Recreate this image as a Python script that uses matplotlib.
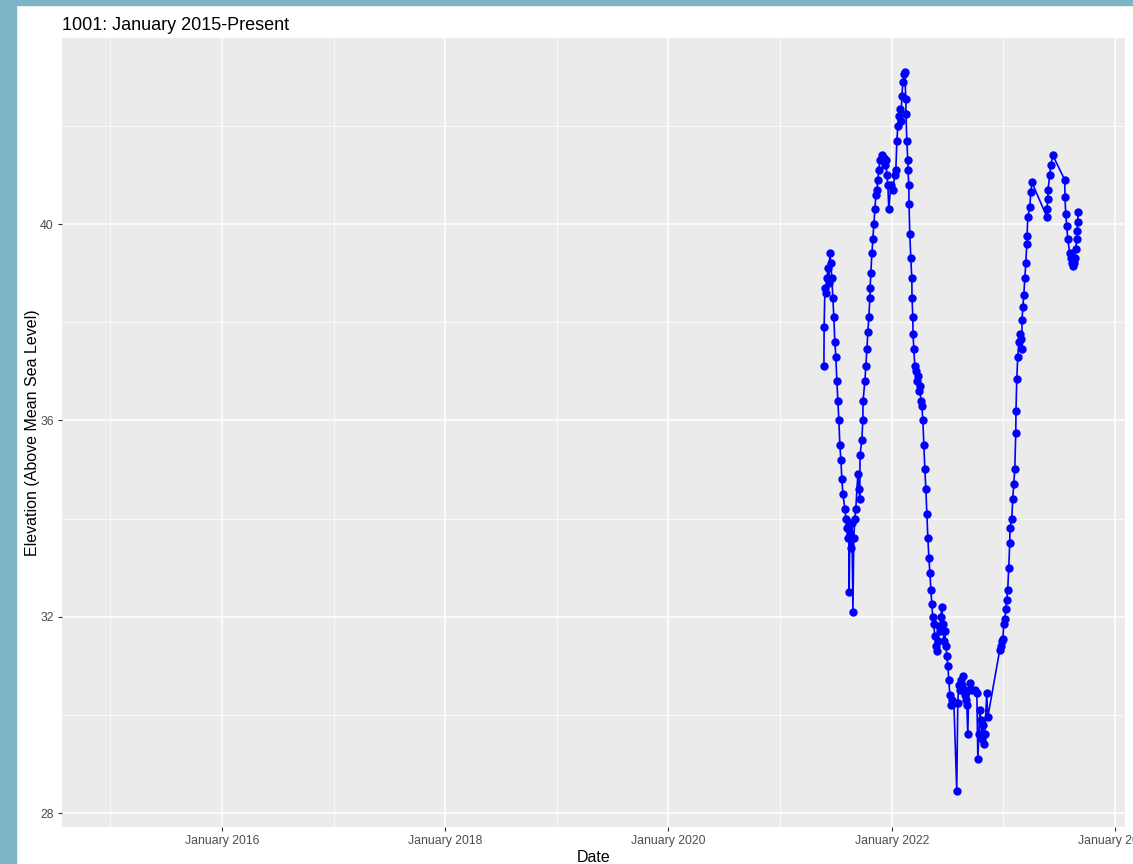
import matplotlib
matplotlib.use('Agg')
import matplotlib.pyplot as plt
import matplotlib.dates as mdates
import pandas as pd
from matplotlib.patches import Rectangle
from matplotlib.ticker import FixedLocator

plt.rcParams['font.family'] = ['Liberation Sans', 'DejaVu Sans']

years = [
    2021.391, 2021.393, 2021.400, 2021.409, 2021.418, 2021.427, 2021.435, 2021.444, 2021.453, 2021.462,
    2021.471, 2021.480, 2021.489, 2021.498, 2021.507, 2021.516, 2021.525, 2021.534, 2021.543, 2021.552,
    2021.561, 2021.579, 2021.588, 2021.597, 2021.606, 2021.615, 2021.617, 2021.624, 2021.633, 2021.642,
    2021.651, 2021.659, 2021.668, 2021.677, 2021.695, 2021.704, 2021.713, 2021.715, 2021.731, 2021.740,
    2021.742, 2021.758, 2021.767, 2021.776, 2021.785, 2021.794, 2021.803, 2021.805, 2021.812, 2021.821,
    2021.830, 2021.839, 2021.848, 2021.857, 2021.866, 2021.875, 2021.884, 2021.892, 2021.910, 2021.928,
    2021.937, 2021.946, 2021.955, 2021.964, 2021.973, 2021.991, 2022.009, 2022.027, 2022.036, 2022.045,
    2022.054, 2022.063, 2022.072, 2022.081, 2022.090, 2022.099, 2022.108, 2022.116, 2022.125, 2022.127,
    2022.134, 2022.143, 2022.145, 2022.152, 2022.154, 2022.161, 2022.170, 2022.179, 2022.181, 2022.188,
    2022.190, 2022.197, 2022.206, 2022.215, 2022.224, 2022.233, 2022.242, 2022.251, 2022.260, 2022.269,
    2022.278, 2022.287, 2022.296, 2022.305, 2022.314, 2022.323, 2022.332, 2022.341, 2022.350, 2022.358,
    2022.367, 2022.376, 2022.385, 2022.394, 2022.403, 2022.412, 2022.421, 2022.430, 2022.439, 2022.448,
    2022.457, 2022.466, 2022.475, 2022.484, 2022.493, 2022.502, 2022.511, 2022.520, 2022.529, 2022.538,
    2022.556, 2022.582, 2022.591, 2022.600, 2022.609, 2022.618, 2022.627, 2022.636, 2022.645, 2022.654,
    2022.663, 2022.672, 2022.681, 2022.690, 2022.699, 2022.717, 2022.744, 2022.762, 2022.771, 2022.780,
    2022.789, 2022.797, 2022.806, 2022.815, 2022.824, 2022.833, 2022.851, 2022.860, 2022.968, 2022.977,
    2022.986, 2022.995, 2023.004, 2023.013, 2023.022, 2023.031, 2023.039, 2023.048, 2023.057, 2023.059,
    2023.075, 2023.084, 2023.093, 2023.102, 2023.111, 2023.113, 2023.120, 2023.129, 2023.138, 2023.147,
    2023.156, 2023.165, 2023.167, 2023.174, 2023.183, 2023.192, 2023.201, 2023.210, 2023.212, 2023.219,
    2023.237, 2023.246, 2023.255, 2023.389, 2023.391, 2023.398, 2023.400, 2023.416, 2023.425, 2023.443,
    2023.550, 2023.552, 2023.559, 2023.568, 2023.577, 2023.595, 2023.604, 2023.613, 2023.622, 2023.631,
    2023.640, 2023.649, 2023.658, 2023.660, 2023.667, 2023.669,
]
elevation = [
    37.1, 37.9, 38.7, 38.6, 38.9, 39.1, 38.8, 39.4, 39.2, 38.9,
    38.5, 38.1, 37.6, 37.3, 36.8, 36.4, 36.0, 35.5, 35.2, 34.8,
    34.5, 34.2, 34.0, 33.8, 33.6, 33.9, 32.5, 33.7, 33.4, 33.9,
    32.1, 33.6, 34.0, 34.2, 34.9, 34.6, 34.4, 35.3, 35.6, 36.0,
    36.4, 36.8, 37.1, 37.45, 37.8, 38.1, 38.5, 38.7, 39.0, 39.4,
    39.7, 40.0, 40.3, 40.6, 40.7, 40.9, 41.1, 41.3, 41.4, 41.35,
    41.2, 41.3, 41.0, 40.8, 40.3, 40.8, 40.7, 41.0, 41.1, 41.7,
    42.0, 42.2, 42.35, 42.1, 42.6, 42.9, 43.06, 43.1, 42.55, 42.25,
    41.7, 41.3, 41.1, 40.8, 40.4, 39.8, 39.3, 38.9, 38.5, 38.1,
    37.75, 37.45, 37.1, 37.0, 36.8, 36.9, 36.6, 36.7, 36.4, 36.3,
    36.0, 35.5, 35.0, 34.6, 34.1, 33.6, 33.2, 32.9, 32.55, 32.25,
    32.0, 31.85, 31.6, 31.4, 31.3, 31.5, 31.8, 31.7, 32.0, 32.2,
    31.85, 31.5, 31.7, 31.4, 31.2, 31.0, 30.7, 30.4, 30.2, 30.3,
    30.25, 28.45, 30.25, 30.6, 30.5, 30.7, 30.6, 30.8, 30.5, 30.4,
    30.3, 30.2, 29.6, 30.5, 30.65, 30.5, 30.5, 30.45, 29.1, 29.6,
    30.1, 29.9, 29.5, 29.8, 29.4, 29.6, 30.45, 29.95, 31.33, 31.4,
    31.5, 31.55, 31.85, 31.95, 32.15, 32.35, 32.55, 33.0, 33.5, 33.8,
    34.0, 34.4, 34.7, 35.0, 35.75, 36.2, 36.85, 37.3, 37.6, 37.75,
    37.65, 37.45, 38.05, 38.3, 38.55, 38.9, 39.2, 39.6, 39.75, 40.15,
    40.35, 40.65, 40.85, 40.15, 40.3, 40.5, 40.7, 41.0, 41.2, 41.4,
    40.9, 40.55, 40.2, 39.95, 39.7, 39.4, 39.3, 39.2, 39.15, 39.2,
    39.3, 39.5, 39.7, 39.85, 40.05, 40.25,
]

major_years = [2016, 2018, 2020, 2022, 2024]
minor_years = [2015, 2017, 2019, 2021, 2023]
y_ticks = [28, 32, 36, 40]
y_minor = [30, 34, 38, 42]


def to_date(y):
    yr = int(y)
    start = pd.Timestamp(year=yr, month=1, day=1)
    days = (pd.Timestamp(year=yr + 1, month=1, day=1) - start).days
    return start + pd.Timedelta(days=(y - yr) * days)


dates = [to_date(y) for y in years]

fig = plt.figure(figsize=(11.33, 8.64), dpi=100)
fig.patch.set_facecolor('white')
# slide border
fig.patches.append(Rectangle((0, 0), 16 / 1133, 1, transform=fig.transFigure, color='#7db4c6', zorder=0))
fig.patches.append(Rectangle((0, 1 - 5 / 864), 1, 5 / 864, transform=fig.transFigure, color='#7db4c6', zorder=0))

ax = fig.add_axes([62 / 1133, 1 - 827 / 864, (1125 - 62) / 1133, (827 - 38) / 864])
ax.set_facecolor('#ebebeb')
for s in ax.spines.values():
    s.set_visible(False)

ax.plot(dates, elevation, color='blue', lw=1.2, marker='o', ms=5, zorder=3)

ax.set_xlim(to_date(2014.566), to_date(2024.09))
ax.set_ylim(27.715, 43.79)

ax.xaxis.set_major_locator(FixedLocator([mdates.date2num(pd.Timestamp(year=y, month=1, day=1)) for y in major_years]))
ax.xaxis.set_minor_locator(FixedLocator([mdates.date2num(pd.Timestamp(year=y, month=1, day=1)) for y in minor_years]))
ax.set_xticklabels([f'January {y}' for y in major_years])
ax.set_yticks(y_ticks)
ax.set_yticks(y_minor, minor=True)

ax.grid(which='major', color='white', lw=1.1)
ax.grid(which='minor', color='white', lw=0.55)
ax.set_axisbelow(True)
ax.tick_params(which='major', length=3, width=0.8, color='#333333', labelsize=8.8, labelcolor='#4d4d4d', pad=3)
ax.tick_params(which='minor', length=0)

ax.set_xlabel('Date', fontsize=11.5, color='black', labelpad=2)
ax.set_ylabel('Elevation (Above Mean Sea Level)', fontsize=11.5, color='black', labelpad=0)
ax.set_title('1001: January 2015-Present', loc='left', fontsize=13, color='black', pad=6)

fig.savefig('out.png', dpi=100)
